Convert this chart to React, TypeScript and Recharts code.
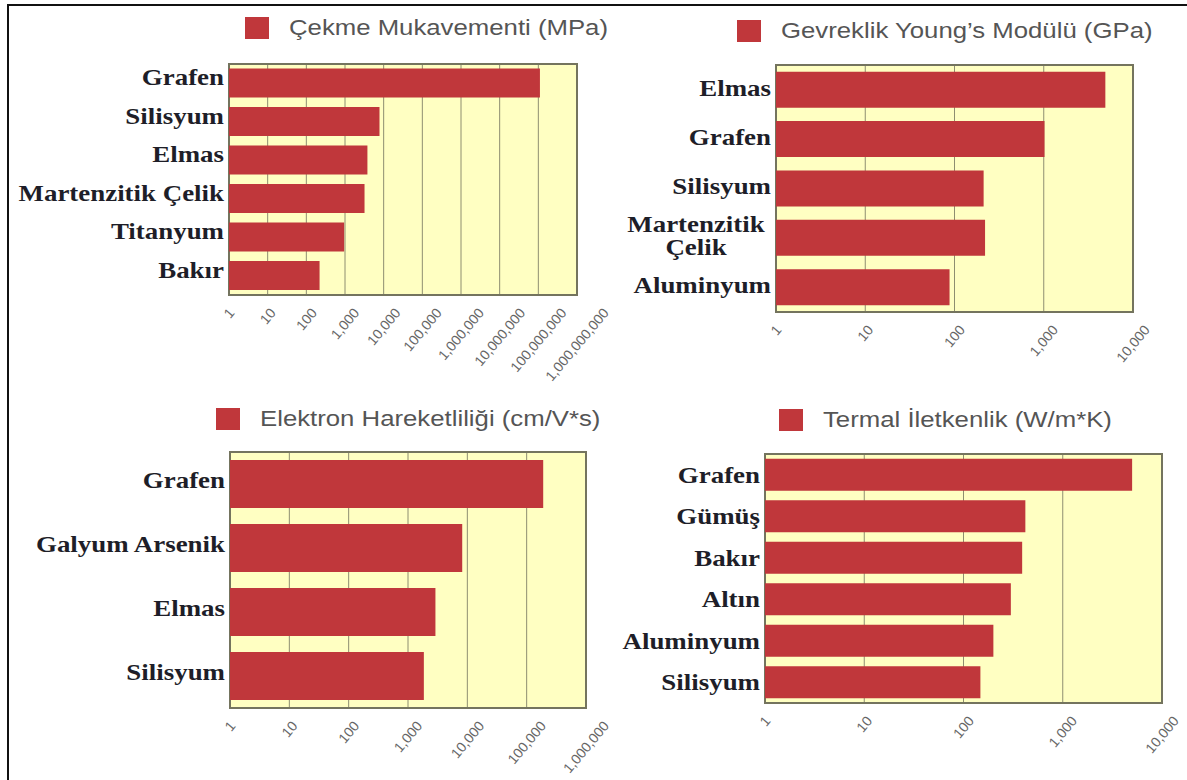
import { Bar, BarChart, CartesianGrid, Legend, ReferenceArea, XAxis, YAxis } from "recharts";

const RED = "#c0373b";
const PLOT_BG = "#ffffc2";
const GRID = "#8e8e70";
const FRAME = "#74745e";
// text in this figure is set a little wide
const STRETCH = 1.17;
const TICK_FONT = 14;
const TICK_ANGLE = 50;

// Çekme mukavemeti (MPa)
const strengthNames = ["Grafen", "Silisyum", "Elmas", "Martenzitik Çelik", "Titanyum", "Bakır"];
const strengthValues = [110000000, 7800, 3800, 3200, 950, 220];
const strengthTicks = [1, 10, 100, 1000, 10000, 100000, 1000000, 10000000, 100000000, 1000000000];

// Young modülü (GPa)
const modulusNames = ["Elmas", "Grafen", "Silisyum", "Martenzitik\nÇelik", "Aluminyum"];
const modulusValues = [4900, 1020, 212, 220, 88];
const modulusTicks = [1, 10, 100, 1000, 10000];

// Elektron hareketliliği (cm/V*s)
const mobilityNames = ["Grafen", "Galyum Arsenik", "Elmas", "Silisyum"];
const mobilityValues = [190000, 8200, 2900, 1850];
const mobilityTicks = [1, 10, 100, 1000, 10000, 100000, 1000000];

// Termal iletkenlik (W/m*K)
const thermalNames = ["Grafen", "Gümüş", "Bakır", "Altın", "Aluminyum", "Silisyum"];
const thermalValues = [5000, 420, 390, 300, 200, 148];
const thermalTicks = [1, 10, 100, 1000, 10000];

type Box = { left: number; top: number; width: number; height: number };
type Plot = { left: number; top: number; right: number; bottom: number };

function DecadeTick({ x, y, payload }: any) {
  const label = Number(payload.value).toLocaleString("en-US");
  const commas = (label.match(/,/g) || []).length;
  const w = ((label.length - commas) * 0.556 + commas * 0.278) * TICK_FONT;
  const a = (TICK_ANGLE * Math.PI) / 180;
  const cy = y + (w / 2) * Math.sin(a) + TICK_FONT * 0.35 * Math.cos(a);
  return (
    <text
      x={x}
      y={cy}
      textAnchor="middle"
      dominantBaseline="central"
      transform={`rotate(${-TICK_ANGLE}, ${x}, ${cy})`}
      style={{ fontFamily: "Liberation Sans, Arial", fontSize: TICK_FONT, fill: "#666" }}
    >
      {label}
    </text>
  );
}

const nameFont = { fontFamily: "Liberation Serif, Times New Roman", fontWeight: 700, fontSize: 23, fill: "#1e1e28" };

function NameTick({ x, y, payload, shift = 0 }: any) {
  const lines = String(payload.value).split("\n");
  const cy = y + shift;
  if (lines.length === 1) {
    return (
      <g transform={`translate(${x},${cy}) scale(${STRETCH},1)`}>
        <text textAnchor="end" dy="0.34em" style={nameFont}>
          {lines[0]}
        </text>
      </g>
    );
  }
  return (
    <g transform={`translate(${x - 75},${cy}) scale(${STRETCH},1)`}>
      {lines.map((line, i) => (
        <text key={i} textAnchor="middle" y={(i - (lines.length - 1) / 2) * 23} dy="0.34em" style={nameFont}>
          {line}
        </text>
      ))}
    </g>
  );
}

function LegendContent(props: any) {
  const item = props.payload?.[0];
  if (!item) return null;
  return (
    <div style={{ position: "relative", height: 22, whiteSpace: "nowrap" }}>
      <span style={{ position: "absolute", left: 0, top: 0, width: 24, height: 22, background: item.color }} />
      <span
        style={{
          position: "absolute",
          left: 44,
          top: 0,
          fontFamily: "Liberation Sans, Arial",
          fontSize: 22,
          lineHeight: "22px",
          color: "#555",
          transform: `scaleX(${STRETCH})`,
          transformOrigin: "left",
        }}
      >
        {item.value}
      </span>
    </div>
  );
}

function Panel({
  title,
  names,
  values,
  ticks,
  box,
  plot,
  legendAt,
  gap,
  labelShift,
}: {
  title: string;
  names: string[];
  values: number[];
  ticks: number[];
  box: Box;
  plot: Plot;
  legendAt: { x: number; y: number };
  gap: string;
  labelShift: number;
}) {
  const data = names.map((name, i) => ({ name, value: values[i] }));
  const lo = ticks[0];
  const hi = ticks[ticks.length - 1];
  return (
    <div style={{ position: "absolute", left: box.left, top: box.top }}>
      <BarChart
        width={box.width}
        height={box.height}
        data={data}
        layout="vertical"
        barCategoryGap={gap}
        margin={{ top: plot.top - box.top, right: box.left + box.width - plot.right, bottom: 0, left: 0 }}
      >
        <CartesianGrid horizontal={false} stroke={GRID} fill={PLOT_BG} fillOpacity={1} />
        <XAxis
          type="number"
          scale="log"
          domain={[lo, hi]}
          ticks={ticks}
          interval={0}
          allowDataOverflow
          axisLine={false}
          tickLine={false}
          tickSize={0}
          tickMargin={12}
          height={box.top + box.height - plot.bottom}
          tick={<DecadeTick />}
        />
        <YAxis
          type="category"
          dataKey="name"
          width={plot.left - box.left}
          axisLine={false}
          tickLine={false}
          tickSize={0}
          tickMargin={5}
          interval={0}
          tick={<NameTick shift={labelShift} />}
        />
        <Legend
          layout="vertical"
          align="center"
          verticalAlign="middle"
          wrapperStyle={{ left: legendAt.x - box.left, top: legendAt.y - box.top, width: "auto" }}
          content={LegendContent}
        />
        <Bar dataKey="value" name={title} fill={RED} isAnimationActive={false} />
        <ReferenceArea x1={lo} x2={hi} fill="none" stroke={FRAME} strokeWidth={2} ifOverflow="visible" />
      </BarChart>
    </div>
  );
}

export default function App() {
  return (
    <div style={{ position: "absolute", left: 0, top: 0, width: 1187, height: 780, background: "#fff", overflow: "hidden" }}>
      <div
        style={{
          position: "absolute",
          left: 7,
          top: 4,
          width: 1300,
          height: 900,
          borderLeft: "2px solid #111",
          borderTop: "2px solid #111",
        }}
      />
      <Panel
        title="Çekme Mukavementi (MPa)"
        names={strengthNames}
        values={strengthValues}
        ticks={strengthTicks}
        box={{ left: 10, top: 8, width: 640, height: 380 }}
        plot={{ left: 229, top: 64, right: 577, bottom: 295 }}
        legendAt={{ x: 245, y: 17 }}
        gap="12%"
        labelShift={-6}
      />
      <Panel
        title="Gevreklik Young’s Modülü (GPa)"
        names={modulusNames}
        values={modulusValues}
        ticks={modulusTicks}
        box={{ left: 612, top: 8, width: 575, height: 380 }}
        plot={{ left: 776, top: 65, right: 1133, bottom: 312 }}
        legendAt={{ x: 737, y: 20 }}
        gap="13.5%"
        labelShift={-2}
      />
      <Panel
        title="Elektron Hareketliliği (cm/V*s)"
        names={mobilityNames}
        values={mobilityValues}
        ticks={mobilityTicks}
        box={{ left: 10, top: 392, width: 640, height: 388 }}
        plot={{ left: 230, top: 452, right: 586, bottom: 708 }}
        legendAt={{ x: 216, y: 408 }}
        gap="12.5%"
        labelShift={-4}
      />
      <Panel
        title="Termal İletkenlik (W/m*K)"
        names={thermalNames}
        values={thermalValues}
        ticks={thermalTicks}
        box={{ left: 612, top: 392, width: 575, height: 388 }}
        plot={{ left: 765, top: 454, right: 1162, bottom: 703 }}
        legendAt={{ x: 779, y: 409 }}
        gap="11.5%"
        labelShift={0}
      />
    </div>
  );
}
